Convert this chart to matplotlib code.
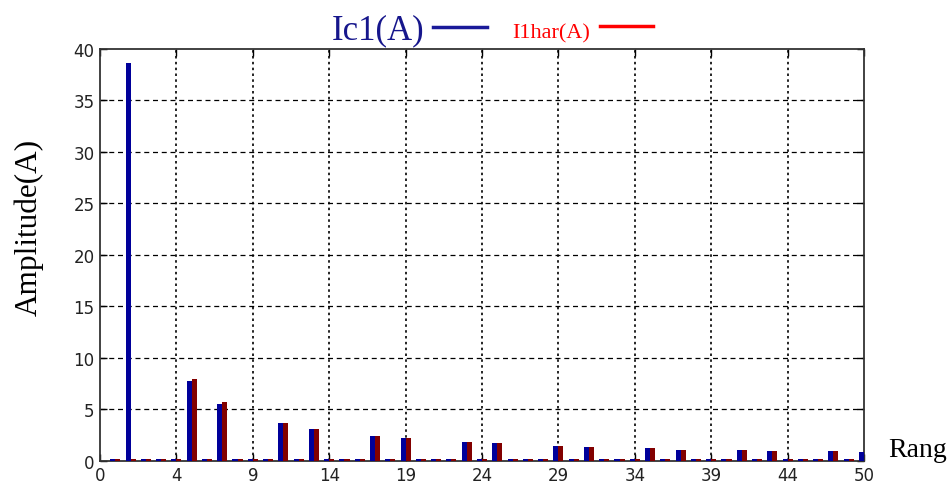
import matplotlib
matplotlib.use("Agg")
import matplotlib.pyplot as plt
from matplotlib.lines import Line2D
import numpy as np

# Bar slots (1..50) along the x axis
slots = list(range(1, 51))
# Ic1(A) amplitudes per slot
ic1 = [0.2, 38.6, 0.2, 0.2, 0.2, 7.72, 0.2, 5.51, 0.2, 0.2,
       0.2, 3.63, 0.2, 3.08, 0.2, 0.2, 0.2, 2.37, 0.2, 2.18,
       0.2, 0.2, 0.2, 1.79, 0.2, 1.69, 0.2, 0.2, 0.2, 1.43,
       0.2, 1.30, 0.2, 0.2, 0.2, 1.21, 0.2, 1.07, 0.2, 0.2,
       0.2, 1.07, 0.2, 0.94, 0.2, 0.2, 0.2, 0.94, 0.2, 0.82]
# I1har(A) amplitudes per slot
i1har = [0.2, 0.2, 0.2, 0.2, 0.2, 7.97, 0.2, 5.68, 0.2, 0.2,
         0.2, 3.63, 0.2, 3.08, 0.2, 0.2, 0.2, 2.37, 0.2, 2.18,
         0.2, 0.2, 0.2, 1.79, 0.2, 1.69, 0.2, 0.2, 0.2, 1.43,
         0.2, 1.30, 0.2, 0.2, 0.2, 1.21, 0.2, 1.07, 0.2, 0.2,
         0.2, 1.07, 0.2, 0.94, 0.2, 0.2, 0.2, 0.94, 0.2, 0.82]

xtick_pos = [0, 5, 10, 15, 20, 25, 30, 35, 40, 45, 50]
xtick_labels = ["0", "4", "9", "14", "19", "24", "29", "34", "39", "44", "50"]
ytick_pos = [0, 5, 10, 15, 20, 25, 30, 35, 40]

BLUE = "#00009a"
RED = "#820000"

fig = plt.figure(figsize=(9.48, 4.85), dpi=100)
ax = fig.add_axes([100/948, 1-461.7/485, (864-100)/948, (461.7-50)/485])

w = 0.33
x = np.array(slots, dtype=float)
ax.bar(x - w/2, ic1, width=w, color=BLUE, linewidth=0, zorder=3)
ax.bar(x + w/2, i1har, width=w, color=RED, linewidth=0, zorder=3)

ax.set_xlim(0, 50)
ax.set_ylim(0, 40)
ax.set_xticks(xtick_pos)
ax.set_xticklabels(xtick_labels)
ax.set_yticks(ytick_pos)

# MATLAB-like grid: dotted verticals, dashed horizontals
for xp in xtick_pos[1:-1]:
    ax.axvline(xp, color="black", linestyle=(0, (1.5, 2)), linewidth=1.2, zorder=1)
for yp in ytick_pos[1:-1]:
    ax.axhline(yp, color="black", linestyle=(0, (4, 3)), linewidth=0.9, zorder=1)

ax.tick_params(direction="in", length=5, width=1, top=True, right=True,
               labelsize=12, labelcolor="#222222", pad=4)
for lab in ax.get_xticklabels() + ax.get_yticklabels():
    lab.set_family("DejaVu Sans")
for s in ax.spines.values():
    s.set_linewidth(1.3)
    s.set_color("#333333")

ax.set_ylabel("Amplitude(A)", family="Liberation Serif", fontsize=22.5)
ax.yaxis.set_label_coords(-0.074, 0.568)

fig.text(888/948, 1-457/485, "Rang", family="Liberation Serif", fontsize=20,
         ha="left", va="baseline", color="black")

# Legend-style header
fig.text(332/948, 1-39/485, "Ic1(A)", family="Liberation Serif", fontsize=25,
         color="#16168c", ha="left", va="baseline")
fig.add_artist(Line2D([433/948, 487/948], [1-28/485, 1-28/485], color="#1a1a99",
                      linewidth=2.5, transform=fig.transFigure))
fig.text(512/948, 1-38/485, "I1har(A)", family="Liberation Serif", fontsize=16,
         color="#ff0000", ha="left", va="baseline")
fig.add_artist(Line2D([600/948, 653/948], [1-27/485, 1-27/485], color="#ff0000",
                      linewidth=2.5, transform=fig.transFigure))

fig.savefig("out.png", dpi=100)
